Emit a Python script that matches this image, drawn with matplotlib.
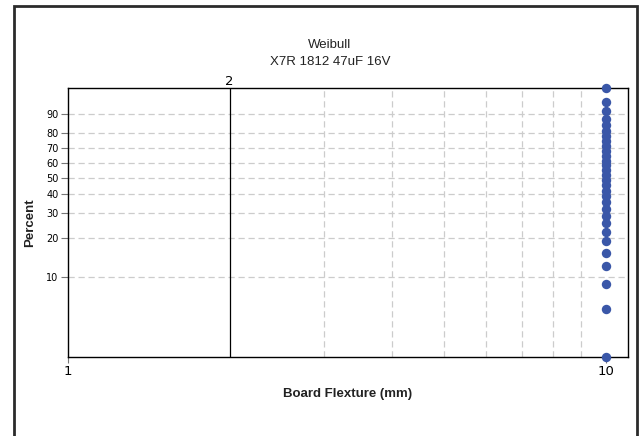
import numpy as np
import matplotlib
matplotlib.use('Agg')
import matplotlib.pyplot as plt
from matplotlib.patches import Rectangle

# failure data: every unit at 10 mm, plotted at its median rank (%)
flexture = [10] * 30
percent = [2.303, 5.592, 8.882, 12.171, 15.461, 18.750, 22.039, 25.329,
           28.618, 31.908, 35.197, 38.487, 41.776, 45.066, 48.355, 51.645,
           54.934, 58.224, 61.513, 64.803, 68.092, 71.382, 74.671, 77.961,
           81.250, 84.539, 87.829, 91.118, 94.408, 97.697]
y_ticks = [10, 20, 30, 40, 50, 60, 70, 80, 90]
x_ticks = [1, 10]
x_minor = [3, 4, 5, 6, 7, 8, 9]
ref_x = 2


def weib(p):
    p = np.clip(np.asarray(p, dtype=float) / 100.0, 1e-9, 1 - 1e-9)
    return np.log(-np.log(1 - p))


def weib_inv(w):
    return 100.0 * (1 - np.exp(-np.exp(np.asarray(w, dtype=float))))


fig = plt.figure(figsize=(6.42, 4.36), dpi=100)
ax = fig.add_axes([0.1053, 0.1812, 0.8727, 0.617])

ax.set_xscale('log')
ax.set_yscale('function', functions=(weib, weib_inv))
ax.set_xlim(1, 11.0)
ax.set_ylim(percent[0], percent[-1])

# grid
for y in y_ticks:
    ax.axhline(y, color='#cccccc', lw=0.9, ls=(0, (5, 3)), zorder=0)
for x in x_minor:
    ax.axvline(x, color='#cccccc', lw=0.9, ls=(0, (5, 3)), zorder=0)
ax.axvline(ref_x, color='black', lw=0.9, zorder=1)
ax.text(ref_x, percent[-1], '2', transform=ax.transData, ha='center',
        va='bottom', fontsize=9.5, family='DejaVu Sans')

ax.scatter(flexture, percent, s=46, color='#3a57a8', zorder=3,
           clip_on=False, linewidths=0)

ax.set_yticks(y_ticks)
ax.set_yticklabels([str(v) for v in y_ticks], fontsize=7, family='DejaVu Sans')
ax.yaxis.set_minor_locator(matplotlib.ticker.NullLocator())
ax.set_xticks(x_ticks)
ax.set_xticklabels(['1', '10'], fontsize=9.5, family='DejaVu Sans')
ax.xaxis.set_minor_locator(matplotlib.ticker.NullLocator())
ax.tick_params(axis='y', length=5, width=0.8, color='#777777', pad=1.5)
ax.tick_params(axis='x', length=4, width=0.8, color='#777777', pad=2)

for s in ax.spines.values():
    s.set_linewidth(1.0)
    s.set_color('black')

ax.set_xlabel('Board Flexture (mm)', fontsize=9.5, fontweight='bold',
              family='Liberation Sans', color='#222222', labelpad=7)
ax.set_ylabel('Percent', fontsize=9.5, fontweight='bold',
              family='Liberation Sans', color='#222222')
ax.yaxis.set_label_coords(-0.067, 0.5)
ax.yaxis.label.set_va('center')

fig.text(0.514, 1 - 45 / 436, 'Weibull', ha='center', va='center',
         fontsize=9.5, family='Liberation Sans', color='#222222')
fig.text(0.514, 1 - 62 / 436, 'X7R 1812 47uF 16V', ha='center', va='center',
         fontsize=9.5, family='Liberation Sans', color='#222222')

# outer frame
frame = Rectangle((14 / 642, -0.1), (637 - 14) / 642, 1.1 - 6.5 / 436,
                  transform=fig.transFigure, fill=False, lw=2.0,
                  edgecolor='#2b2b2b', clip_on=False)
fig.patches.append(frame)

fig.savefig('out.png', dpi=100)
